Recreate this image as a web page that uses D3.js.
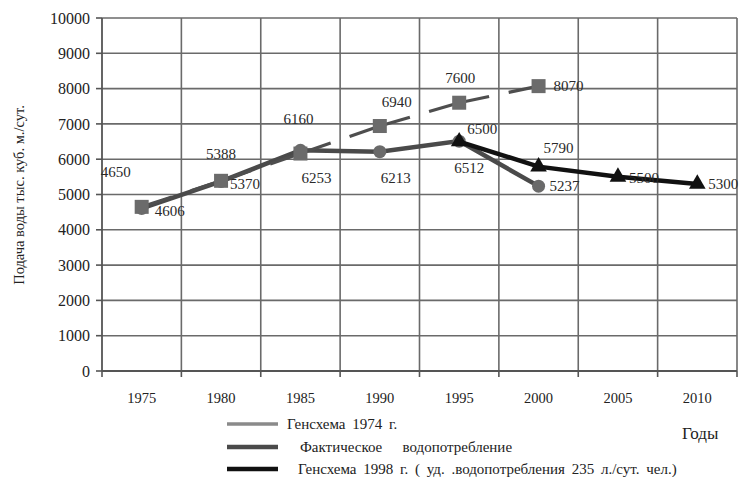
<!DOCTYPE html>
<html>
<head>
<meta charset="utf-8">
<script src="https://cdn.jsdelivr.net/npm/d3@7"></script>
<style>
  body { margin: 0; background: #fff; }
  svg { display: block; font-family: "Liberation Serif", "Times New Roman", serif; }
</style>
</head>
<body>
<svg id="chart" width="742" height="477"></svg>
<script>
// data
const years = ['1975', '1980', '1985', '1990', '1995', '2000', '2005', '2010'];
const yTicks = [0, 1000, 2000, 3000, 4000, 5000, 6000, 7000, 8000, 9000, 10000];

const plan1974Years = ['1975', '1980', '1985', '1990', '1995', '2000'];
const plan1974 = [4650, 5388, 6160, 6940, 7600, 8070];

const actualYears = ['1975', '1980', '1985', '1990', '1995', '2000'];
const actual = [4606, 5370, 6253, 6213, 6512, 5237];

const plan1998Years = ['1995', '2000', '2005', '2010'];
const plan1998 = [6500, 5790, 5500, 5300];

const legendNames = [
  'Генсхема 1974 г.',
  'Фактическое   водопотребление',
  'Генсхема 1998 г. ( уд. .водопотребления 235 л./сут. чел.)'
];

// label offsets, one per point
const plan1974Lab = [[-26, -35, 'middle'], [0, -27, 'middle'], [-2, -35, 'middle'],
  [17, -24, 'middle'], [1, -25, 'middle'], [15, 0, 'start']];
const actualLab = [[13, 2, 'start'], [9, 2, 'start'], [16, 27, 'middle'],
  [16, 26, 'middle'], [10, 27, 'middle'], [11, 0, 'start']];
const plan1998Lab = [[23, -13, 'middle'], [20, -19, 'middle'], [11, 1, 'start'], [11, 0, 'start']];

const svg = d3.select('#chart');
const plotL = 102, plotR = 737, plotT = 18, plotB = 371;

const x = d3.scaleBand().domain(years).range([plotL, plotR]);
const y = d3.scaleLinear().domain([0, 10000]).range([plotB, plotT]);
const cx = d => x(d) + x.bandwidth() / 2;

// grid
svg.append('g').selectAll('line')
  .data(yTicks.slice(1))
  .join('line')
  .attr('x1', plotL).attr('x2', plotR)
  .attr('y1', d => y(d)).attr('y2', d => y(d))
  .attr('stroke', '#6a6a6a').attr('stroke-width', 1.6);

const bounds = years.map(d => x(d)).concat([plotR]);
svg.append('g').selectAll('line')
  .data(bounds.slice(1))
  .join('line')
  .attr('x1', d => d).attr('x2', d => d)
  .attr('y1', plotT).attr('y2', plotB)
  .attr('stroke', '#6a6a6a').attr('stroke-width', 1.6);

// axes
svg.append('line')
  .attr('x1', plotL).attr('x2', plotL).attr('y1', plotT).attr('y2', plotB)
  .attr('stroke', '#555').attr('stroke-width', 1.8);
svg.append('line')
  .attr('x1', plotL).attr('x2', plotR).attr('y1', plotB).attr('y2', plotB)
  .attr('stroke', '#555').attr('stroke-width', 1.8);

svg.append('g').selectAll('line')
  .data(yTicks)
  .join('line')
  .attr('x1', plotL - 6).attr('x2', plotL)
  .attr('y1', d => y(d)).attr('y2', d => y(d))
  .attr('stroke', '#555').attr('stroke-width', 1.6);

svg.append('g').selectAll('text')
  .data(yTicks)
  .join('text')
  .attr('x', plotL - 12).attr('y', d => y(d))
  .attr('dy', '0.35em')
  .attr('text-anchor', 'end')
  .attr('font-size', 16)
  .attr('fill', '#222')
  .text(d => d);

svg.append('g').selectAll('line')
  .data(bounds)
  .join('line')
  .attr('x1', d => d).attr('x2', d => d)
  .attr('y1', plotB).attr('y2', plotB + 6)
  .attr('stroke', '#555').attr('stroke-width', 1.6);

svg.append('g').selectAll('text')
  .data(years)
  .join('text')
  .attr('x', d => cx(d)).attr('y', 398)
  .attr('dy', '0.35em')
  .attr('text-anchor', 'middle')
  .attr('font-size', 14.5)
  .attr('fill', '#222')
  .text(d => d);

svg.append('text')
  .attr('transform', 'translate(19,' + 195 + ') rotate(-90)')
  .attr('text-anchor', 'middle')
  .attr('dy', '0.35em')
  .attr('font-size', 14.5)
  .attr('fill', '#222')
  .text('Подача воды тыс. куб. м./сут.');

svg.append('text')
  .attr('x', 682).attr('y', 433)
  .attr('dy', '0.35em')
  .attr('font-size', 17)
  .attr('fill', '#222')
  .text('Годы');

const line = d3.line();

// actual consumption
const actPts = actualYears.map((d, i) => [cx(d), y(actual[i])]);
svg.append('path')
  .attr('d', line(actPts))
  .attr('fill', 'none').attr('stroke', '#4a4a4a').attr('stroke-width', 4.5);
svg.append('g').selectAll('circle')
  .data(actPts)
  .join('circle')
  .attr('cx', d => d[0]).attr('cy', d => d[1]).attr('r', 6.5)
  .attr('fill', '#6a6a6a');

// scheme 1974, dashes centred on the markers
const planPts = plan1974Years.map((d, i) => [cx(d), y(plan1974[i])]);
const gap = 20;
for (let i = 0; i < planPts.length - 1; i++) {
  const a = planPts[i], b = planPts[i + 1];
  const len = Math.hypot(b[0] - a[0], b[1] - a[1]);
  const half = (len - gap) / 2;
  svg.append('path')
    .attr('d', line([a, b]))
    .attr('fill', 'none').attr('stroke', '#4e4e4e').attr('stroke-width', 3.2)
    .attr('stroke-dasharray', half + ' ' + gap + ' ' + half);
}
svg.append('g').selectAll('rect')
  .data(planPts)
  .join('rect')
  .attr('x', d => d[0] - 7).attr('y', d => d[1] - 7)
  .attr('width', 14).attr('height', 14)
  .attr('fill', '#6b6b6b');

// scheme 1998
const newPts = plan1998Years.map((d, i) => [cx(d), y(plan1998[i])]);
svg.append('path')
  .attr('d', line(newPts))
  .attr('fill', 'none').attr('stroke', '#111').attr('stroke-width', 4.5);
const tri = d3.symbol().type(d3.symbolTriangle).size(120);
svg.append('g').selectAll('path')
  .data(newPts)
  .join('path')
  .attr('d', tri)
  .attr('transform', d => 'translate(' + d[0] + ',' + d[1] + ')')
  .attr('fill', '#111');

// point labels
function labels (pts, vals, offs) {
  svg.append('g').selectAll('text')
    .data(pts)
    .join('text')
    .attr('x', (d, i) => d[0] + offs[i][0])
    .attr('y', (d, i) => d[1] + offs[i][1])
    .attr('dy', '0.35em')
    .attr('text-anchor', (d, i) => offs[i][2])
    .attr('font-size', 15)
    .attr('fill', '#2a2a2a')
    .text((d, i) => vals[i]);
}
labels(planPts, plan1974, plan1974Lab);
labels(actPts, actual, actualLab);
labels(newPts, plan1998, plan1998Lab);

// legend
const legendColors = ['#8a8a8a', '#4a4a4a', '#111'];
const legendWidths = [3.5, 4.5, 4.5];
const legendTextX = [287, 300, 298];
const legendRows = [424, 447, 469];
const lg = svg.append('g');
legendNames.forEach((name, i) => {
  lg.append('line')
    .attr('x1', 227).attr('x2', 278)
    .attr('y1', legendRows[i]).attr('y2', legendRows[i])
    .attr('stroke', legendColors[i]).attr('stroke-width', legendWidths[i]);
  lg.append('text')
    .attr('x', legendTextX[i]).attr('y', legendRows[i])
    .attr('dy', '0.35em')
    .attr('font-size', 15)
    .attr('word-spacing', 3)
    .attr('fill', '#222')
    .attr('xml:space', 'preserve')
    .style('white-space', 'pre')
    .text(name);
});
</script>
</body>
</html>
